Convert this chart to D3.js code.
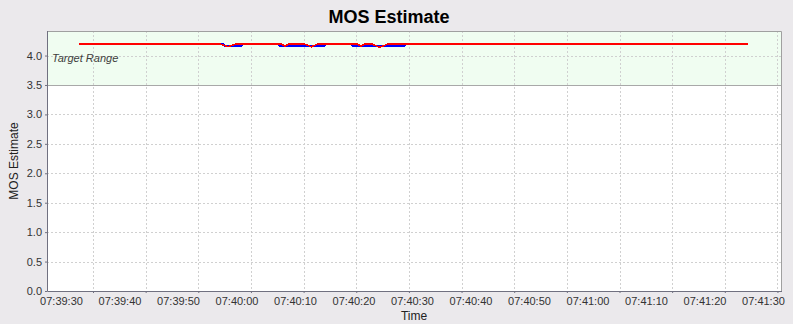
<!DOCTYPE html>
<html>
<head>
<meta charset="utf-8">
<script src="https://cdn.jsdelivr.net/npm/d3@7"></script>
<style>
  body { margin: 0; background: #ebe9ec; }
  svg { display: block; font-family: "Liberation Sans", Arial, sans-serif; }
</style>
</head>
<body>
<svg id="chart" width="793" height="324"></svg>
<script>
// seconds after 07:39:30 and MOS values
const redSec  = [3, 27, 28.5, 30, 37.5, 38.3, 39, 41.5, 42.8, 44, 50.5, 51.3, 52, 53, 54.5, 56, 117.4];
const redVal  = [4.2, 4.2, 4.15, 4.2, 4.2, 4.16, 4.2, 4.2, 4.15, 4.2, 4.2, 4.16, 4.2, 4.2, 4.14, 4.2, 4.2];
const blueSec = [3, 27.6, 28, 30.8, 31.2, 37, 37.4, 45, 45.4, 49.5, 49.9, 58.6, 59, 117.4];
const blueVal = [4.2, 4.2, 4.165, 4.165, 4.2, 4.2, 4.165, 4.165, 4.2, 4.2, 4.165, 4.165, 4.2, 4.2];
const yTicks = [0, 0.5, 1, 1.5, 2, 2.5, 3, 3.5, 4];
const targetMin = 3.5;

const base = new Date(2000, 0, 1, 7, 39, 30);
const at = s => new Date(base.getTime() + s * 1000);

const svg = d3.select('#chart');
const plot = { left: 47, right: 781, top: 31, bottom: 291 };

// label scale (time labels) and grid scale (gridlines / tick marks)
const x = d3.scaleTime()
    .domain([at(-2.393), at(123.077)])
    .range([plot.left, plot.right]);
const xGrid = d3.scaleTime()
    .domain([at(0), at(140)])
    .range([40.35, 777.45]);
const y = d3.scaleLinear()
    .domain([0, 4.417])
    .range([plot.bottom, plot.top]);

// title
svg.append('text')
    .attr('x', 389).attr('y', 23)
    .attr('text-anchor', 'middle')
    .style('font-size', '18px').style('font-weight', 'bold')
    .text('MOS Estimate');

// plot background
svg.append('rect')
    .attr('x', plot.left).attr('y', plot.top)
    .attr('width', plot.right - plot.left).attr('height', plot.bottom - plot.top)
    .attr('fill', '#ffffff');

// target range band
svg.append('rect')
    .attr('x', plot.left).attr('y', plot.top)
    .attr('width', plot.right - plot.left).attr('height', y(targetMin) - plot.top)
    .attr('fill', '#f0fdf1');

// gridlines
const gridTimes = xGrid.ticks(d3.timeSecond.every(10))
    .filter(t => xGrid(t) > plot.left + 2 && xGrid(t) < plot.right);
svg.append('g').selectAll('line')
    .data(gridTimes)
    .join('line')
    .attr('x1', d => Math.round(xGrid(d)) + 0.5).attr('x2', d => Math.round(xGrid(d)) + 0.5)
    .attr('y1', plot.top).attr('y2', plot.bottom)
    .attr('stroke', '#d0d0d0').attr('stroke-dasharray', '2,2');
svg.append('g').selectAll('line')
    .data(yTicks.filter(v => v > 0))
    .join('line')
    .attr('x1', plot.left).attr('x2', plot.right)
    .attr('y1', d => Math.round(y(d)) + 0.5).attr('y2', d => Math.round(y(d)) + 0.5)
    .attr('stroke', '#d0d0d0').attr('stroke-dasharray', '2,2');

// band edge
svg.append('line')
    .attr('x1', plot.left).attr('x2', plot.right)
    .attr('y1', Math.round(y(targetMin)) + 0.5).attr('y2', Math.round(y(targetMin)) + 0.5)
    .attr('stroke', '#a8a8a8');

svg.append('text')
    .attr('x', 52).attr('y', 62)
    .style('font-size', '11px').style('font-style', 'italic')
    .attr('fill', '#404040')
    .text('Target Range');

// series
const line = d3.line().x(d => x(d[0])).y(d => y(d[1]));
svg.append('path')
    .datum(blueSec.map((s, i) => [at(s), blueVal[i]]))
    .attr('d', line).attr('fill', 'none')
    .attr('stroke', '#0000ff').attr('stroke-width', 2)
    .attr('shape-rendering', 'crispEdges');
svg.append('path')
    .datum(redSec.map((s, i) => [at(s), redVal[i]]))
    .attr('d', line).attr('fill', 'none')
    .attr('stroke', '#ff0000').attr('stroke-width', 1.6)
    .attr('shape-rendering', 'crispEdges');

// outline (top/right)
svg.append('path')
    .attr('d', `M${plot.left},${plot.top + 0.5}H${plot.right + 0.5}V${plot.bottom}`)
    .attr('fill', 'none').attr('stroke', '#a0a0a0');

// axes
const xAxis = svg.append('g')
    .attr('transform', `translate(0,${plot.bottom})`)
    .call(d3.axisBottom(x)
        .ticks(d3.timeSecond.every(10))
        .tickFormat(d3.timeFormat('%H:%M:%S'))
        .tickSize(0).tickPadding(0));
xAxis.select('.domain').remove();
xAxis.selectAll('text')
    .attr('y', 14).attr('dy', 0)
    .style('font-size', '11px').style('font-family', '"Liberation Sans", Arial, sans-serif')
    .attr('fill', '#333');

const xTickMarks = svg.append('g')
    .attr('transform', `translate(0,${plot.bottom})`)
    .call(d3.axisBottom(xGrid)
        .tickValues(gridTimes)
        .tickFormat('')
        .tickSizeInner(2).tickSizeOuter(0));
xTickMarks.select('.domain').remove();
xTickMarks.selectAll('line').attr('stroke', '#707080');

const yAxis = svg.append('g')
    .attr('transform', `translate(${plot.left},0)`)
    .call(d3.axisLeft(y)
        .tickValues(yTicks)
        .tickFormat(d3.format('.1f'))
        .tickSizeInner(2).tickSizeOuter(0).tickPadding(3));
yAxis.select('.domain').remove();
yAxis.selectAll('line').attr('stroke', '#707080');
yAxis.selectAll('text')
    .style('font-size', '11px').style('font-family', '"Liberation Sans", Arial, sans-serif')
    .attr('fill', '#333');

svg.append('path')
    .attr('d', `M${plot.left + 0.5},${plot.top}V${plot.bottom + 0.5}H${plot.right + 1}`)
    .attr('fill', 'none').attr('stroke', '#707080');

// axis titles
svg.append('text')
    .attr('x', (plot.left + plot.right) / 2).attr('y', 320)
    .attr('text-anchor', 'middle')
    .style('font-size', '12px').attr('fill', '#222')
    .text('Time');
svg.append('text')
    .attr('transform', 'translate(18,161) rotate(-90)')
    .attr('text-anchor', 'middle')
    .style('font-size', '12px').attr('fill', '#222')
    .text('MOS Estimate');
</script>
</body>
</html>
